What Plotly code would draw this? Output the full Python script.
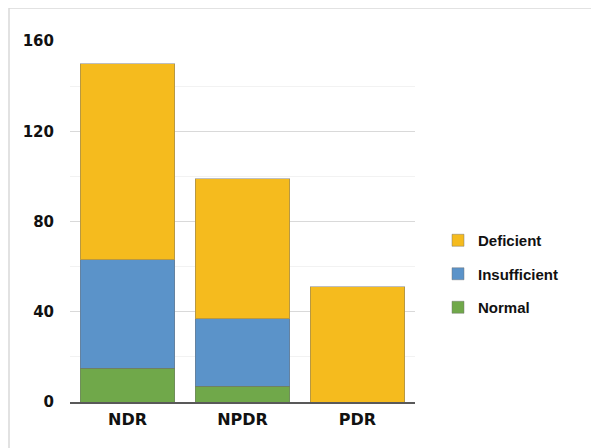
import plotly.graph_objects as go

categories = ["NDR", "NPDR", "PDR"]
normal = [15, 7, 0]
insufficient = [48, 30, 0]
deficient = [87, 62, 51]

series_names = ["Normal", "Insufficient", "Deficient"]
series_values = [normal, insufficient, deficient]
series_colors = ["#70a84a", "#5b93c9", "#f5bb1e"]
legend_ranks = [3, 2, 1]

fig = go.Figure()
for name, vals, col, rk in zip(series_names, series_values, series_colors, legend_ranks):
    fig.add_trace(go.Bar(
        x=categories, y=vals, name=name, legendgroup=name, legendrank=rk,
        marker=dict(color=col, line=dict(color="rgba(110,110,110,0.45)", width=1)),
        width=0.82,
    ))

OFF = 8  # page body offset
W, H = 599 - OFF, 448 - OFF
L, T = 70 - OFF, 41 - OFF
pw, ph = 345, 361
R = W - L - pw
B = H - T - ph

x_left = (9 - OFF - L) / pw
x_right = (599 - OFF - L) / pw
y_top = 1 + (T - (8 - OFF)) / ph
y_bot = -(B + 10) / ph

fig.update_layout(
    width=W, height=H,
    margin=dict(l=L, r=R, t=T, b=B),
    barmode="stack",
    plot_bgcolor="white", paper_bgcolor="white",
    font=dict(family="DejaVu Sans", color="#111111"),
    showlegend=True,
    legend=dict(
        x=(438 - 70) / pw, xanchor="left", y=(402 - 274) / ph, yanchor="middle",
        traceorder="grouped", tracegroupgap=11,
        font=dict(family="Liberation Sans", size=15, color="#111111", weight="bold"),
        itemwidth=30, bgcolor="rgba(0,0,0,0)",
    ),
    xaxis=dict(
        showgrid=False, showline=True, linecolor="#595959", linewidth=1.5,
        ticks="", ticklabelstandoff=2,
        tickfont=dict(family="DejaVu Sans", size=16, weight="bold", color="#111111"),
    ),
    yaxis=dict(
        range=[0, 160], tickvals=[0, 40, 80, 120, 160],
        showgrid=True, gridcolor="#d9d9d9", gridwidth=1,
        minor=dict(tickvals=[20, 60, 100, 140], showgrid=True, gridcolor="#f2f2f2", gridwidth=1),
        zeroline=False, showline=False, ticks="",
        ticklabelstandoff=15,
        tickfont=dict(family="DejaVu Sans", size=15, weight="bold", color="#111111"),
    ),
    shapes=[
        dict(type="line", xref="paper", yref="paper", x0=x_left, x1=x_right, y0=y_top, y1=y_top,
             line=dict(color="#d9d9d9", width=1.5)),
        dict(type="line", xref="paper", yref="paper", x0=x_left, x1=x_left, y0=y_top, y1=y_bot,
             line=dict(color="#d9d9d9", width=1.5)),
    ],
)

fig.write_html("out.html")
